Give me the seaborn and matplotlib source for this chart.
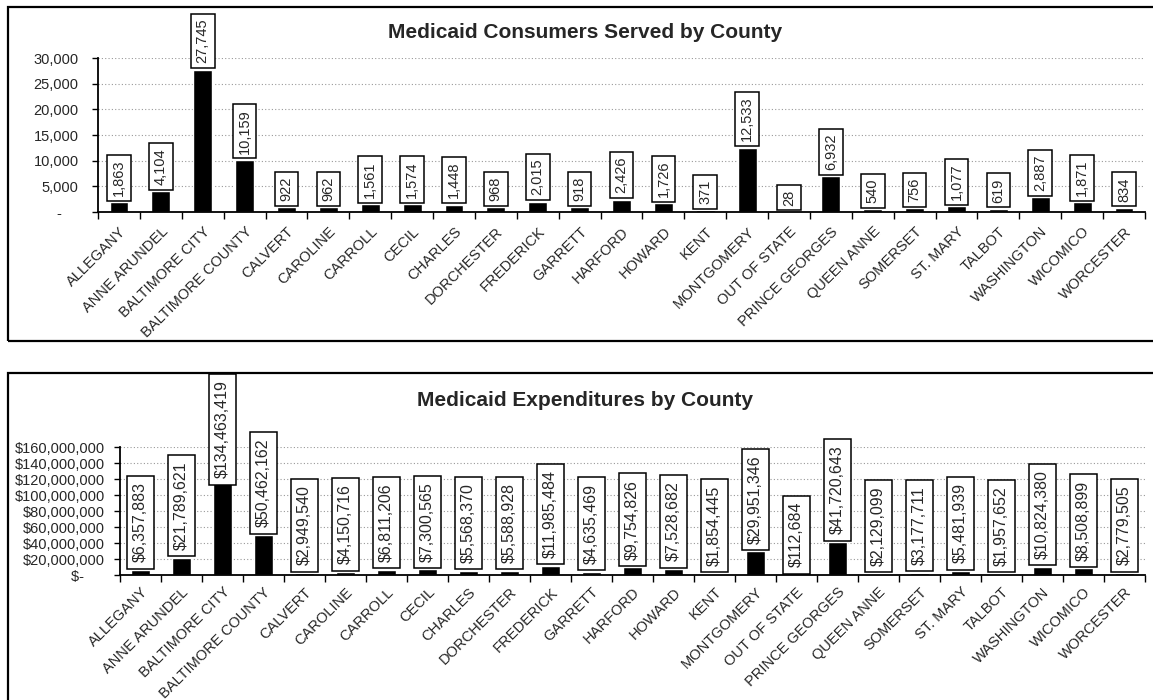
import matplotlib
matplotlib.use("Agg")
import matplotlib.pyplot as plt
import matplotlib.patches as patches
from matplotlib.ticker import FuncFormatter, FixedLocator
import seaborn as sns
import numpy as np

counties = ["ALLEGANY", "ANNE ARUNDEL", "BALTIMORE CITY", "BALTIMORE COUNTY", "CALVERT",
            "CAROLINE", "CARROLL", "CECIL", "CHARLES", "DORCHESTER", "FREDERICK",
            "GARRETT", "HARFORD", "HOWARD", "KENT", "MONTGOMERY", "OUT OF STATE",
            "PRINCE GEORGES", "QUEEN ANNE", "SOMERSET", "ST. MARY", "TALBOT",
            "WASHINGTON", "WICOMICO", "WORCESTER"]

consumers = [1863, 4104, 27745, 10159, 922, 962, 1561, 1574, 1448, 968, 2015, 918,
             2426, 1726, 371, 12533, 28, 6932, 540, 756, 1077, 619, 2887, 1871, 834]

expenditures = [6357883, 21789621, 134463419, 50462162, 2949540, 4150716, 6811206,
                7300565, 5568370, 5588928, 11985484, 4635469, 9754826, 7528682,
                1854445, 29951346, 112684, 41720643, 2129099, 3177711, 5481939,
                1957652, 10824380, 8508899, 2779505]

sns.set_style("white")
plt.rcParams['font.family'] = ['Liberation Sans', 'DejaVu Sans']

W, H = 1153, 700
fig = plt.figure(figsize=(W / 100, H / 100), dpi=100)

# panel frames (Excel chart areas)
fig.patches.append(patches.Rectangle((8 / W, 1 - 341 / H), 1.2, (341 - 7) / H,
                                     transform=fig.transFigure, fill=False,
                                     ec='black', lw=1.6))
fig.patches.append(patches.Rectangle((8 / W, -0.1), 1.2, 0.1 + 1 - 373 / H,
                                     transform=fig.transFigure, fill=False,
                                     ec='black', lw=1.6))

ax1 = fig.add_axes([98 / W, 1 - 212 / H, (1145 - 98) / W, (212 - 58) / H])
ax2 = fig.add_axes([120 / W, 1 - 575.3 / H, (1145 - 120) / W, 128 / H])


def style_axis(ax, values, ymax, step, fmt, lab_fmt, fs_lab, box_pad, ylab_pad, xlab_pad):
    sns.barplot(x=counties, y=values, color='black', saturation=1, width=0.45, ax=ax)
    ax.set_xlim(-0.5, len(counties) - 0.5)
    ax.set_ylim(0, ymax)
    ax.set_xlabel('')
    ax.set_ylabel('')
    ax.yaxis.set_major_locator(FixedLocator(np.arange(0, ymax + step, step)))
    ax.yaxis.set_major_formatter(FuncFormatter(fmt))
    ax.grid(axis='y', color='#999999', linestyle=(0, (1, 2)), lw=0.8)
    ax.set_axisbelow(True)
    for s in ['top', 'right']:
        ax.spines[s].set_visible(False)
    for s in ['left', 'bottom']:
        ax.spines[s].set_color('black')
        ax.spines[s].set_linewidth(1.3)
    ax.tick_params(axis='y', which='major', length=4, width=1, color='black',
                   labelsize=10.5, pad=ylab_pad, left=True)
    ax.set_xticks(range(len(counties)))
    ax.set_xticklabels(counties, rotation=45, ha='right', rotation_mode='anchor',
                       fontsize=10.5)
    ax.tick_params(axis='x', which='major', length=0, pad=xlab_pad)
    ax.set_xticks(np.arange(-0.5, len(counties), 1), minor=True)
    ax.tick_params(axis='x', which='minor', length=5, width=1, color='black', bottom=True)
    anns = []
    for i, v in enumerate(values):
        offset = box_pad * fs_lab + 1
        a = ax.annotate(lab_fmt(v), xy=(i, v), xytext=(0, offset), textcoords='offset points',
                        rotation=90, ha='center', va='bottom', fontsize=fs_lab,
                        bbox=dict(boxstyle=f'square,pad={box_pad}', fc='white',
                                  ec='black', lw=1.1),
                        annotation_clip=False)
        anns.append(a)
    return anns


anns1 = style_axis(ax1, consumers, 30000, 5000,
                   lambda v, p: '-    ' if v == 0 else f'{v:,.0f}',
                   lambda v: f'{v:,}', 10.5, 0.33, 10, 9)
anns2 = style_axis(ax2, expenditures, 160000000, 20000000,
                   lambda v, p: '$-     ' if v == 0 else f'${v:,.0f}',
                   lambda v: f'${v:,}', 11.5, 0.4, 7, 7)

fig.text(585 / W, 1 - 33 / H, 'Medicaid Consumers Served by County', ha='center',
         va='center', fontsize=15, fontweight='bold')
fig.text(585 / W, 1 - 400 / H, 'Medicaid Expenditures by County', ha='center',
         va='center', fontsize=15, fontweight='bold')

# keep labels inside their chart area, like Excel does
fig.canvas.draw()
renderer = fig.canvas.get_renderer()
for anns, top in [(anns1, H - 9), (anns2, H - 374)]:
    for a in anns:
        bb = a.get_bbox_patch().get_window_extent(renderer)
        if bb.y1 > top:
            shift = (bb.y1 - top) * 72 / fig.dpi
            a.xyann = (0, a.xyann[1] - shift)

fig.savefig('out.png', dpi=100)
